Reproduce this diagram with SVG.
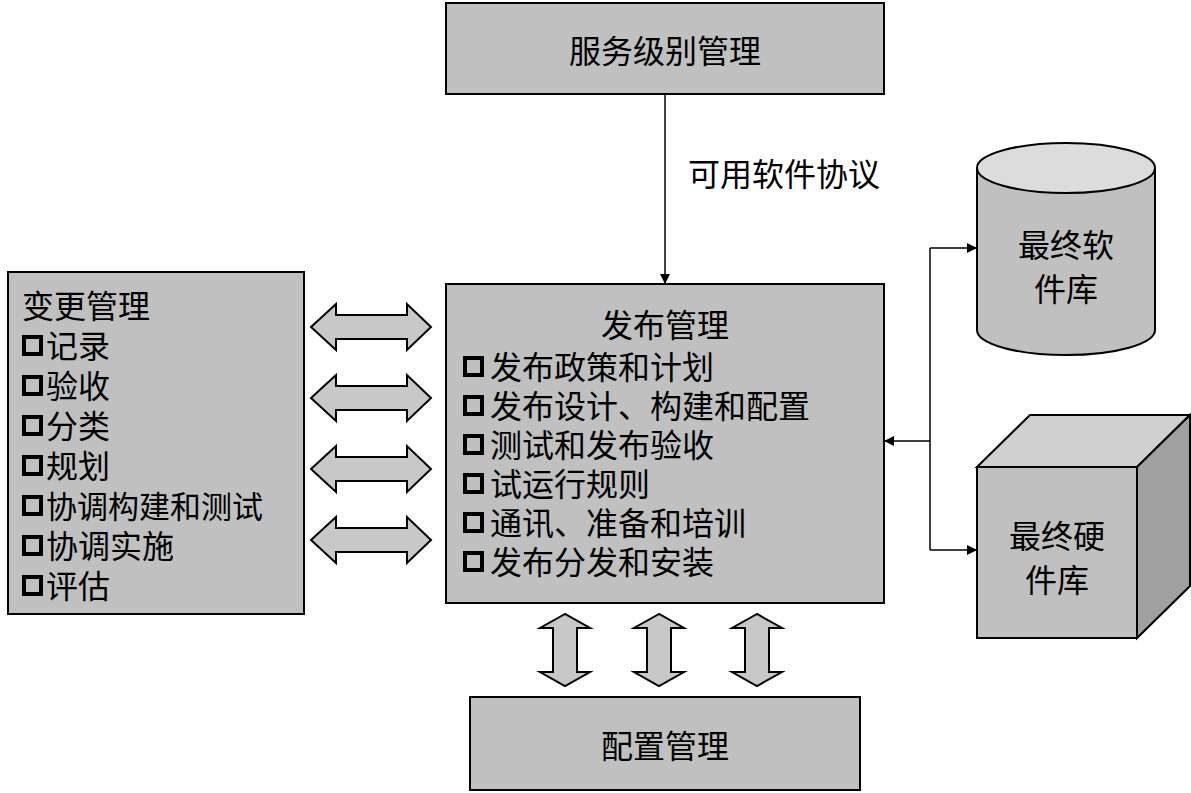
<svg xmlns="http://www.w3.org/2000/svg" width="1191" height="793" viewBox="0 0 1191 793">
<style>
.b{fill:#c0c0c0;stroke:#000;stroke-width:2}
.t{font-family:"Noto Sans CJK SC","Liberation Sans",sans-serif;font-size:32px;fill:#000}
.q{font-family:"Liberation Sans","Noto Sans CJK SC",sans-serif;font-weight:bold}
.l{stroke:#000;stroke-width:1.5;fill:none}
.da{fill:#c8c8c8;stroke:#000;stroke-width:2}
</style>
<defs><marker id="ah" markerWidth="10" markerHeight="10" refX="9" refY="5" orient="auto" markerUnits="userSpaceOnUse"><path d="M0,0L10,5L0,10z" fill="#000"/></marker>
<path id="ha" d="M0,0L25,-23L25,-12L96,-12L96,-23L120,0L96,23L96,12L25,12L25,23z"/>
<path id="va" d="M0,0L-25,14L-12,14L-12,58L-25,58L0,72L25,58L12,58L12,14L25,14z"/>
<g id="sq"><rect x="2" y="-21" width="17" height="17" fill="none" stroke="#000" stroke-width="4"/></g></defs>
<g id="connectors">
<line class="l" x1="665" y1="94" x2="665" y2="283" marker-end="url(#ah)"/>
<path class="l" d="M930,248V550"/>
<line class="l" x1="930" y1="248" x2="976" y2="248" marker-end="url(#ah)"/>
<line class="l" x1="930" y1="550" x2="976" y2="550" marker-end="url(#ah)"/>
<line class="l" x1="930" y1="441" x2="885" y2="441" marker-end="url(#ah)"/>
<use href="#ha" class="da" x="311" y="327"/><use href="#ha" class="da" x="311" y="398"/>
<use href="#ha" class="da" x="311" y="469"/><use href="#ha" class="da" x="311" y="540"/>
<use href="#va" class="da" x="565" y="614"/><use href="#va" class="da" x="659" y="614"/><use href="#va" class="da" x="757" y="614"/>
</g>
<text class="t" x="688" y="186" font-size="36">可用软件协议</text>
<g id="slm"><rect class="b" x="446" y="3" width="438" height="91"/><text class="t" x="665" y="63" text-anchor="middle" font-size="38">服务级别管理</text></g>
<g id="change"><rect class="b" x="8" y="272" width="296" height="342"/>
<text class="t" x="22" y="318" font-size="36">变更管理</text>
<g class="t" font-size="33"><use href="#sq" x="22" y="358"/><text x="46" y="358">记录</text><use href="#sq" x="22" y="398"/><text x="46" y="398">验收</text><use href="#sq" x="22" y="438"/><text x="46" y="438">分类</text><use href="#sq" x="22" y="478"/><text x="46" y="478">规划</text><use href="#sq" x="22" y="518"/><text x="46" y="518" font-size="31">协调构建和测试</text><use href="#sq" x="22" y="558"/><text x="46" y="558">协调实施</text><use href="#sq" x="22" y="598"/><text x="46" y="598">评估</text></g></g>
<g id="release"><rect class="b" x="446" y="284" width="438" height="319"/>
<text class="t" x="665" y="337" text-anchor="middle" font-size="38">发布管理</text>
<g class="t" font-size="31"><use href="#sq" x="463" y="379"/><text x="490" y="379">发布政策和计划</text><use href="#sq" x="463" y="418"/><text x="490" y="418">发布设计、构建和配置</text><use href="#sq" x="463" y="457"/><text x="490" y="457">测试和发布验收</text><use href="#sq" x="463" y="496"/><text x="490" y="496">试运行规则</text><use href="#sq" x="463" y="535"/><text x="490" y="535">通讯、准备和培训</text><use href="#sq" x="463" y="574"/><text x="490" y="574">发布分发和安装</text></g></g>
<g id="config"><rect class="b" x="470" y="697" width="390" height="93"/><text class="t" x="665" y="758" text-anchor="middle" font-size="38">配置管理</text></g>
<g id="sw"><path class="b" d="M977,168V330A89,25 0 0 0 1155,330V168"/><ellipse cx="1066" cy="168" rx="89" ry="25" fill="#dcdcdc" stroke="#000" stroke-width="2"/>
<text class="t" x="1066" y="257" text-anchor="middle" font-size="38">最终软</text><text class="t" x="1066" y="301" text-anchor="middle" font-size="38">件库</text></g>
<g id="hw"><path d="M977,467L1030,415H1190L1137,467z" fill="#d0d0d0" stroke="#000" stroke-width="2"/><path d="M1137,467L1190,415V586L1137,638z" fill="#a0a0a0" stroke="#000" stroke-width="2"/><rect class="b" x="977" y="467" width="160" height="171"/>
<text class="t" x="1057" y="548" text-anchor="middle" font-size="38">最终硬</text><text class="t" x="1057" y="592" text-anchor="middle" font-size="38">件库</text></g>
</svg>
